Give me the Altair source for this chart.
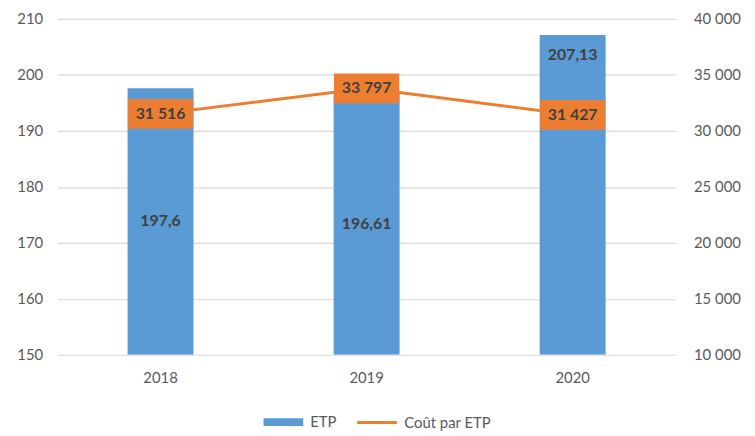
import altair as alt
import pandas as pd

years = ["2018", "2019", "2020"]
etp = [197.6, 196.61, 207.13]
etp_labels = ["197,6", "196,61", "207,13"]
etp_label_pos = ["middle", "middle", "top"]
cout = [31516, 33797, 31427]
cout_labels = ["31 516", "33 797", "31 427"]

BLUE = "#5B9BD5"
ORANGE = "#ED7D31"
FONT = "Lato"

# label anchor: centre of bar or just inside its top
ylab = []
for v, p in zip(etp, etp_label_pos):
    ylab.append((150 + v) / 2 if p == "middle" else v - 3.6)

df = pd.DataFrame({
    "year": years, "etp": etp, "etp_label": etp_labels, "etp_y": ylab,
    "cout": cout, "cout_label": cout_labels,
    "s1": ["ETP"] * 3, "s2": ["Coût par ETP"] * 3,
})

x = alt.X("year:N", scale=alt.Scale(paddingInner=0.68, paddingOuter=0.34),
          axis=alt.Axis(title=None, labelAngle=0, domain=False, ticks=False,
                        labelPadding=16, labelFontSize=15, labelColor="#595959", labelFont=FONT))

yl = alt.Scale(domain=[150, 210], nice=False, zero=False)
yr = alt.Scale(domain=[10000, 40000], nice=False, zero=False)

left_axis = alt.Axis(title=None, values=[150, 160, 170, 180, 190, 200, 210],
                     domain=False, ticks=False, grid=True, gridColor="#D9D9D9",
                     gridWidth=1.2, labelPadding=15, labelFontSize=15,
                     labelColor="#595959", labelFont=FONT)
right_axis = alt.Axis(title=None, orient="right",
                      values=[10000, 15000, 20000, 25000, 30000, 35000, 40000],
                      labelExpr="replace(format(datum.value, ','), ',', ' ')",
                      domain=False, ticks=False, grid=False, labelPadding=18,
                      labelFontSize=15, labelColor="#595959", labelFont=FONT)

bars = alt.Chart(df).mark_bar(clip=True).encode(
    x=x,
    y=alt.Y("etp:Q", scale=yl, axis=left_axis),
    y2=alt.datum(150),
    color=alt.Color("s1:N", scale=alt.Scale(domain=["ETP"], range=[BLUE]),
                    legend=alt.Legend(title=None, symbolType="M-1,-0.2H1V0.2H-1Z",
                                      symbolSize=1600, labelFontSize=15,
                                      labelColor="#595959", labelFont=FONT,
                                      symbolOpacity=1, orient="none",
                                      legendX=207, legendY=386)),
)
bar_text = alt.Chart(df).mark_text(fontWeight="bold", fontSize=16, color="#404040",
                                   font=FONT).encode(
    x=alt.X("year:N"),
    y=alt.Y("etp_y:Q", scale=yl, axis=left_axis),
    text="etp_label:N",
)

line = alt.Chart(df).mark_line(strokeWidth=3).encode(
    x=alt.X("year:N"),
    y=alt.Y("cout:Q", scale=yr, axis=right_axis),
    stroke=alt.Stroke("s2:N", scale=alt.Scale(domain=["Coût par ETP"], range=[ORANGE]),
                      legend=alt.Legend(title=None, symbolType="stroke", symbolSize=1600,
                                        symbolStrokeWidth=3, labelFontSize=15,
                                        labelColor="#595959", labelFont=FONT,
                                        orient="none", legendX=301, legendY=386)),
)
boxes = alt.Chart(df).mark_point(
    shape="M-1,-0.455H1V0.455H-1Z", size=4356, filled=True, fill=ORANGE,
    opacity=1, strokeWidth=0,
).encode(
    x=alt.X("year:N"),
    y=alt.Y("cout:Q", scale=yr, axis=right_axis),
)
line_text = alt.Chart(df).mark_text(fontWeight="bold", fontSize=16, color="#404040",
                                    font=FONT).encode(
    x=alt.X("year:N"),
    y=alt.Y("cout:Q", scale=yr, axis=right_axis),
    text="cout_label:N",
)

left = alt.layer(bars, bar_text)
right = alt.layer(line, boxes, line_text)

chart = alt.layer(left, right).resolve_scale(y="independent").properties(
    width=624, height=339,
    autosize=alt.AutoSizeParams(type="none"),
    padding={"left": 50, "top": 9, "right": 72, "bottom": 78},
).configure_view(stroke=None).configure_legend(labelOffset=6)

chart.save("out.html", embed_options={"renderer": "svg", "actions": False})
